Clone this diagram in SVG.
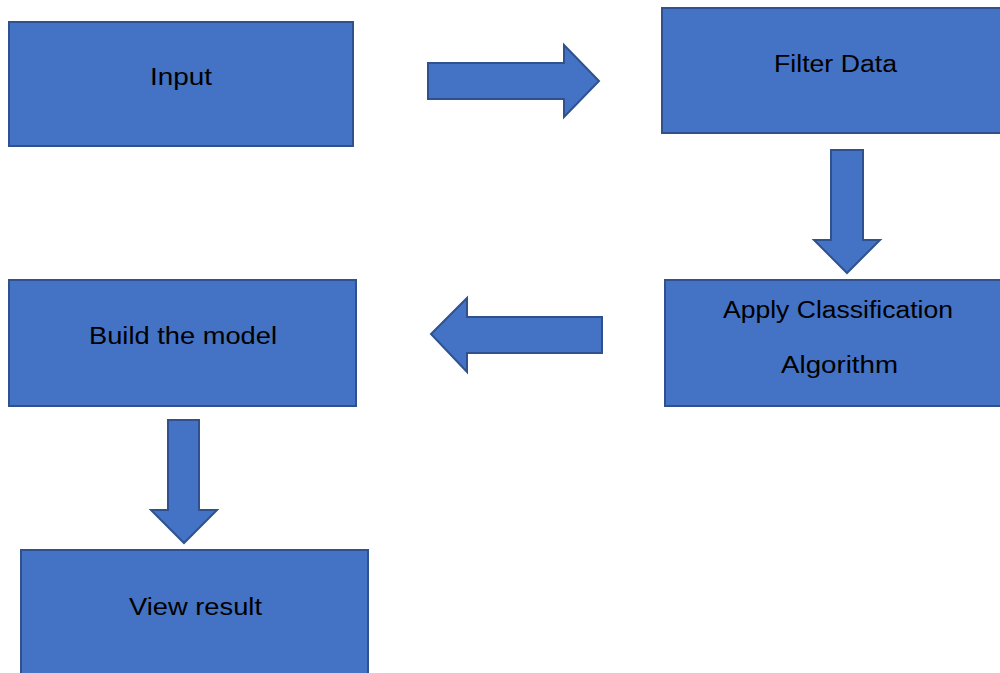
<svg xmlns="http://www.w3.org/2000/svg" width="1000" height="673" viewBox="0 0 1000 673">
  <style>
    .box { fill: #4472C4; stroke: #2F528F; stroke-width: 2; }
    .arrow { fill: #4472C4; stroke: #2F528F; stroke-width: 2; stroke-linejoin: miter; }
    .label { font-family: "Liberation Sans", Arial, sans-serif; font-size: 23px; fill: #000; text-anchor: middle; }
  </style>
  <rect width="1000" height="673" fill="#ffffff"/>

  <g id="connectors">
    <!-- Input -> Filter Data -->
    <polygon class="arrow" points="428,63 564,63 564,45 599,81 564,117 564,99 428,99"/>
    <!-- Filter Data -> Apply Classification -->
    <polygon class="arrow" points="831,150 863,150 863,240 880,240 847,273 814,240 831,240"/>
    <!-- Apply Classification -> Build the model -->
    <polygon class="arrow" points="602,317 467,317 467,298 431,334 467,372 467,353 602,353"/>
    <!-- Build the model -> View result -->
    <polygon class="arrow" points="168,420 199,420 199,510 217,510 184,543 151,510 168,510"/>
  </g>

  <g id="node-input">
    <rect class="box" x="9" y="22" width="344" height="124"/>
    <text class="label" x="181" y="85" textLength="62" lengthAdjust="spacingAndGlyphs">Input</text>
  </g>

  <g id="node-filter">
    <rect class="box" x="662" y="8" width="345" height="125"/>
    <text class="label" x="835.5" y="72" textLength="123" lengthAdjust="spacingAndGlyphs">Filter Data</text>
  </g>

  <g id="node-classify">
    <rect class="box" x="665" y="280" width="345" height="126"/>
    <text class="label" x="838" y="318" textLength="230" lengthAdjust="spacingAndGlyphs">Apply Classification</text>
    <text class="label" x="839.5" y="373" textLength="117" lengthAdjust="spacingAndGlyphs">Algorithm</text>
  </g>

  <g id="node-build">
    <rect class="box" x="9" y="280" width="347" height="126"/>
    <text class="label" x="183" y="344" textLength="188" lengthAdjust="spacingAndGlyphs">Build the model</text>
  </g>

  <g id="node-view">
    <rect class="box" x="21" y="550" width="347" height="130"/>
    <text class="label" x="195.5" y="615" textLength="133" lengthAdjust="spacingAndGlyphs">View result</text>
  </g>
</svg>
